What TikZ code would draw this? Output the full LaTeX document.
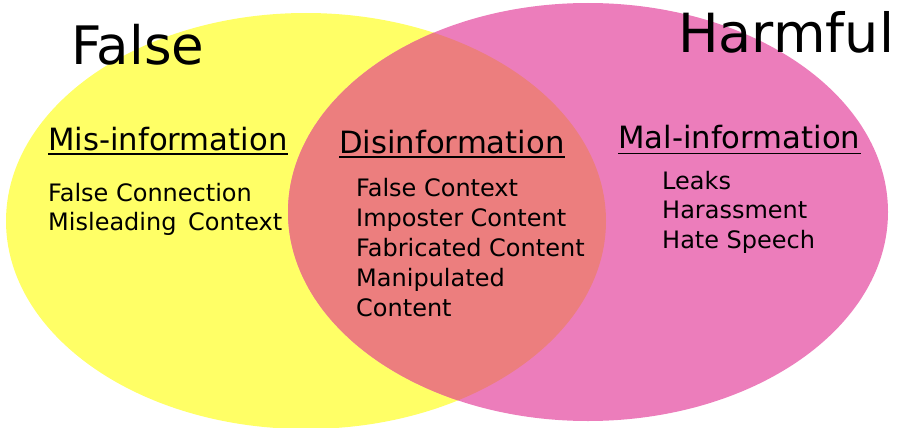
\documentclass[tikz,border=0pt]{standalone}
\usepackage{fontspec}
\setmainfont{DejaVu Sans}
\definecolor{yel}{RGB}{255,255,102}
\definecolor{pnk}{RGB}{236,125,187}
\definecolor{ovl}{RGB}{236,126,126}
\tikzset{
  title/.style={anchor=base west, inner sep=0pt, font=\fontsize{53}{60}\selectfont},
  head/.style={anchor=base west, inner sep=0pt, font=\fontsize{30.7}{36}\selectfont},
  item/.style={anchor=base west, inner sep=0pt, align=left, font=\fontsize{24}{30}\selectfont},
  uline/.style={line width=1.5pt, black}
}
\begin{document}
\begin{tikzpicture}[x=1pt,y=-1pt]
\useasboundingbox (0,0) rectangle (897,428);
\fill[yel] (306,221) ellipse [x radius=300, y radius=208];
\fill[pnk] (588,212) ellipse [x radius=300, y radius=209];
\begin{scope}
  \clip (306,221) ellipse [x radius=300, y radius=208];
  \fill[ovl] (588,212) ellipse [x radius=300, y radius=209];
\end{scope}
\node[title] (tf) at (71,65) {False};
\node[title, font=\fontsize{54}{60}\selectfont] (th) at (678,53) {Harmful};
\node[head] (hm) at (48,150) {Mis-information};
\node[head] (hd) at (339,153) {Disinformation};
\node[head] (hl) at (618,148) {Mal-information};
\draw[uline] ([yshift=-4pt]hm.base west) -- ([yshift=-4pt]hm.base east);
\draw[uline] ([yshift=-4pt]hd.base west) -- ([yshift=-4pt]hd.base east);
\draw[uline] ([yshift=-5.5pt]hl.base west) -- ([yshift=-5.5pt]hl.base east);
\node[item] (im1) at (48,201) {False Connection};
\node[item] (im2) at (48,230) {Misleading\, Context};
\node[item] (id1) at (356,196) {False Context};
\node[item] (id2) at (356,226) {Imposter Content};
\node[item] (id3) at (356,256) {Fabricated Content};
\node[item] (id4) at (356,286) {Manipulated};
\node[item] (id5) at (356,316) {Content};
\node[item] (il1) at (662,189) {Leaks};
\node[item] (il2) at (662,218) {Harassment};
\node[item] (il3) at (662,248) {Hate Speech};
\end{tikzpicture}
\end{document}
